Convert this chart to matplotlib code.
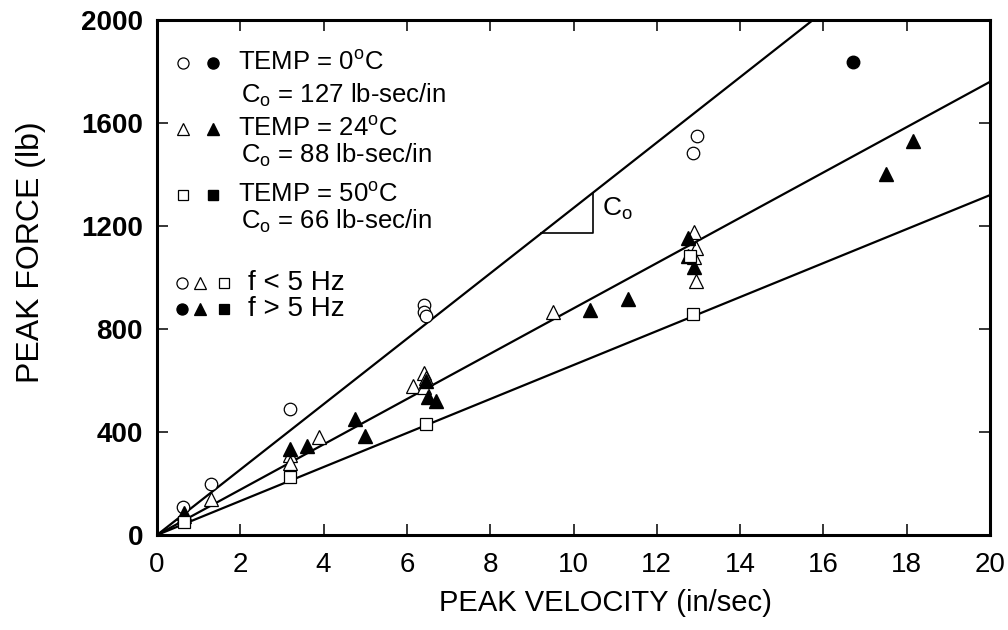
import matplotlib
matplotlib.use("Agg")
import matplotlib.pyplot as plt
from matplotlib import font_manager

names = {f.name for f in font_manager.fontManager.ttflist}
narrow = "Liberation Sans Narrow" if "Liberation Sans Narrow" in names else "Liberation Sans"

plt.rcParams["font.family"] = ["Liberation Sans", "DejaVu Sans"]
plt.rcParams["mathtext.fontset"] = "custom"
plt.rcParams["mathtext.rm"] = "Liberation Sans"
plt.rcParams["mathtext.it"] = "Liberation Sans"

# damping coefficients (lb-sec/in) for each temperature
temps = [0, 24, 50]
c0 = [127, 88, 66]

# TEMP = 0 C
circ_open_v = [0.62, 1.3, 3.2, 6.4, 6.4, 6.45, 12.87, 12.97]
circ_open_f = [110, 200, 490, 895, 865, 850, 1485, 1548]
circ_fill_v = [16.7]
circ_fill_f = [1835]

# TEMP = 24 C
tri_open_v = [0.65, 1.3, 3.2, 3.2, 3.9, 6.15, 6.4, 6.45, 6.4, 9.5, 12.9, 12.95, 12.9, 12.95]
tri_open_f = [75, 140, 310, 280, 380, 578, 630, 610, 575, 866, 1177, 1115, 1080, 985]
tri_fill_v = [0.65, 3.2, 3.6, 4.75, 5.0, 6.45, 6.5, 6.7, 10.4, 11.3, 12.75, 12.75, 12.9, 17.5, 18.15]
tri_fill_f = [85, 335, 345, 452, 385, 598, 536, 520, 874, 918, 1153, 1085, 1040, 1402, 1530]

# TEMP = 50 C
sq_open_v = [0.65, 3.2, 6.45, 12.87, 12.8]
sq_open_f = [52, 225, 430, 860, 1085]

# slope triangle on the 0 C line
slope_x = [9.23, 10.47]

fig = plt.figure(figsize=(10.08, 6.3), dpi=100)
ax = fig.add_axes([157 / 1008, 95 / 630, 833 / 1008, 515 / 630])

xs = [0, 20]
for c in c0:
    ax.plot(xs, [c * x for x in xs], color="black", lw=1.6, zorder=2)

mk = dict(linestyle="none", color="black", zorder=3)
ax.plot(circ_open_v, circ_open_f, marker="o", ms=9, mfc="white", mew=0.9, **mk)
ax.plot(circ_fill_v, circ_fill_f, marker="o", ms=9, mfc="black", **mk)
ax.plot(tri_open_v, tri_open_f, marker="^", ms=10, mfc="white", mew=0.9, **mk)
ax.plot(tri_fill_v, tri_fill_f, marker="^", ms=10, mfc="black", **mk)
ax.plot(sq_open_v, sq_open_f, marker="s", ms=8.5, mfc="white", mew=0.9, **mk)

# C0 slope triangle
x1, x2 = slope_x
ax.plot([x1, x2, x2], [c0[0] * x1, c0[0] * x1, c0[0] * x2], color="black", lw=1.2, zorder=2)
ax.text(x2 + 0.22, c0[0] * (x1 + x2) / 2 + 15, r"C$_\mathrm{o}$", fontsize=19, va="center", ha="left")

ax.set_xlim(0, 20)
ax.set_ylim(0, 2000)
ax.set_xticks(range(0, 21, 2))
ax.set_yticks(range(0, 2001, 400))
ax.tick_params(direction="in", length=8, width=1.1, top=True, right=True, pad=10)
ax.tick_params(axis="x", pad=12)
for lab in ax.get_xticklabels():
    lab.set_fontfamily(narrow)
    lab.set_fontsize(20)
for lab in ax.get_yticklabels():
    lab.set_fontsize(20)
    lab.set_fontweight("bold")
for s in ax.spines.values():
    s.set_linewidth(2.2)

ax.set_xlabel("PEAK VELOCITY (in/sec)", fontsize=21, family=narrow)
ax.xaxis.set_label_coords((605 - 157) / 833, -(589 - 535) / 515)
ax.set_ylabel("PEAK FORCE (lb)", fontsize=23)
ax.yaxis.set_label_coords(-(157 - 46) / 833, (535 - 252) / 515)

# legend block
T = ax.transAxes
syms = [("o", 8), ("^", 8.5), ("s", 7.5)]
rows_y = [0.9165, 0.788, 0.660]
co_y = [0.854, 0.738, 0.608]
for (m, s), t, c, ry, cy in zip(syms, temps, c0, rows_y, co_y):
    ax.plot([0.031], [ry], marker=m, ms=s, mfc="white", mew=0.9, transform=T, **mk)
    ax.plot([0.067], [ry], marker=m, ms=s, mfc="black", transform=T, **mk)
    ax.text(0.097, ry, r"TEMP = %d$^\mathrm{o}$C" % t, transform=T, fontsize=18.5, va="center")
    ax.text(0.101, cy, r"C$_\mathrm{o}$ = %d lb-sec/in" % c, transform=T, fontsize=18.5, va="center")

sym_x = [0.030, 0.052, 0.080]
for fill, ry, txt in [("white", 0.489, "f < 5 Hz"), ("black", 0.439, "f > 5 Hz")]:
    for (m, s), sx in zip(syms, sym_x):
        ax.plot([sx], [ry], marker=m, ms=s, mfc=fill, mew=0.9, transform=T, **mk)
    ax.text(0.109, ry, txt, transform=T, fontsize=20, va="center")

fig.savefig("out.png", dpi=100)
